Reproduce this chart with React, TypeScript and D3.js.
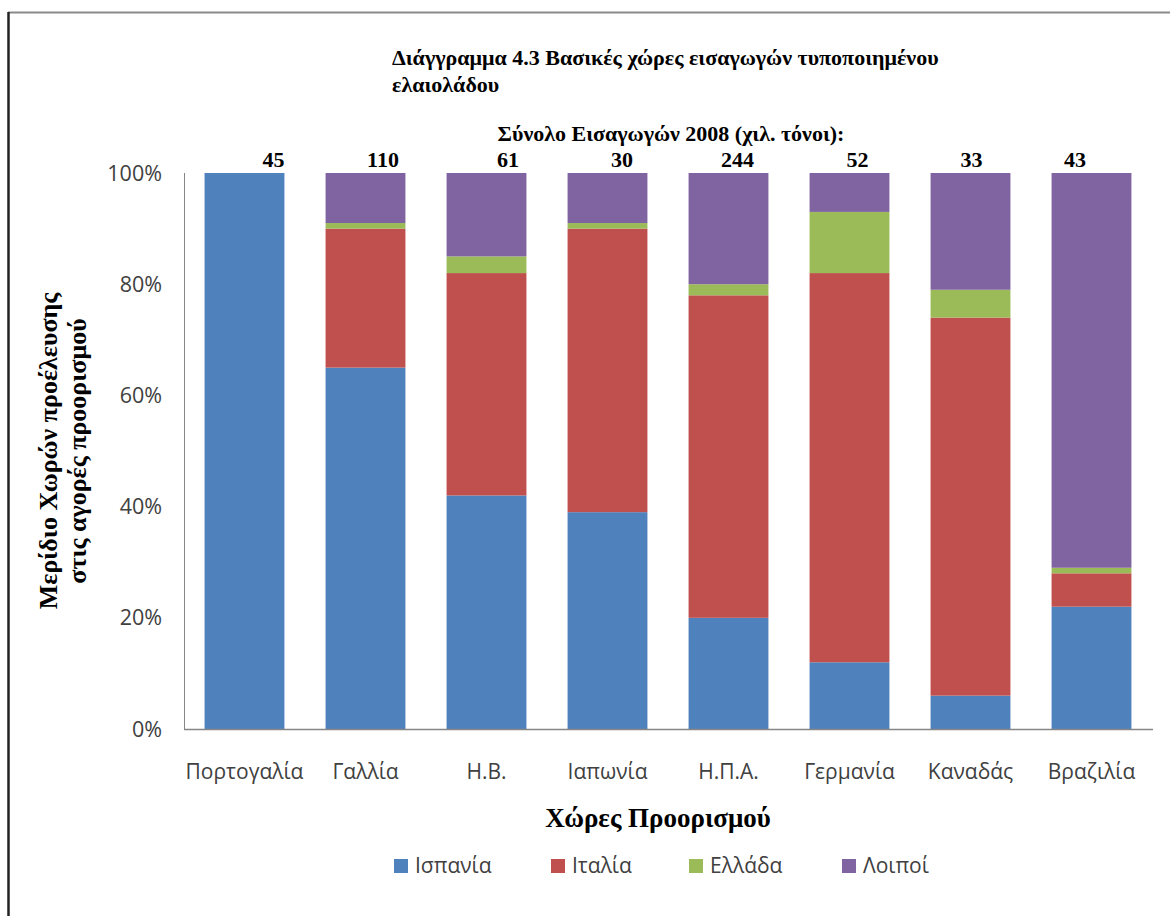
import React from "react";
import * as d3 from "d3";

const categories = ["Πορτογαλία", "Γαλλία", "Η.Β.", "Ιαπωνία", "Η.Π.Α.", "Γερμανία", "Καναδάς", "Βραζιλία"];
const seriesNames = ["Ισπανία", "Ιταλία", "Ελλάδα", "Λοιποί"];
const spain = [100, 65, 42, 39, 20, 12, 6, 22];
const italy = [0, 25, 40, 51, 58, 70, 68, 6];
const greece = [0, 1, 3, 1, 2, 11, 5, 1];
const others = [0, 9, 15, 9, 20, 7, 21, 71];
const totals = [45, 110, 61, 30, 244, 52, 33, 43];
const yTicks = [0, 20, 40, 60, 80, 100];

// layout / style (not data)
const colors = ["#4F81BD", "#C0504D", "#9BBB59", "#8064A2"];
const totalLabelDx = [29, 17.5, 21.5, 14.5, 9, 8, 1, -16.5];
const W = 1170, H = 916;
const plot = { left: 184, right: 1152, top: 173, bottom: 729 };
const serif = "'Liberation Serif', 'Times New Roman', serif";
const sans = "'Open Sans', 'Noto Sans', sans-serif";

export default function App() {
  const rows = categories.map((c, i) => ({
    cat: c,
    [seriesNames[0]]: spain[i],
    [seriesNames[1]]: italy[i],
    [seriesNames[2]]: greece[i],
    [seriesNames[3]]: others[i],
  }));
  const stacked = d3.stack<any>().keys(seriesNames)(rows);
  const x = d3.scaleBand().domain(categories).range([plot.left, plot.right]).paddingInner(0.34).paddingOuter(0.17);
  const y = d3.scaleLinear().domain([0, 100]).range([plot.bottom, plot.top]);
  const color = d3.scaleOrdinal<string, string>().domain(seriesNames).range(colors);
  const legendX = [394, 551, 689, 842];

  return (
    <svg width={W} height={H} style={{ position: "absolute", left: 0, top: 0, background: "#fff" }}>
      <rect x={0} y={0} width={W} height={H} fill="#fff" />
      {/* frame */}
      <line x1={8} y1={12.5} x2={W} y2={12.5} stroke="#8a8a8a" strokeWidth={2} />
      <line x1={8.5} y1={12} x2={8.5} y2={H} stroke="#222" strokeWidth={2.5} />

      {/* title */}
      <text x={392} y={65} fontFamily={serif} fontWeight="bold" fontSize={22} fill="#000">
        Διάγγραμμα 4.3 Βασικές χώρες εισαγωγών τυποποιημένου
      </text>
      <text x={392} y={92} fontFamily={serif} fontWeight="bold" fontSize={22} fill="#000">
        ελαιολάδου
      </text>
      <text x={671} y={141} textAnchor="middle" fontFamily={serif} fontWeight="bold" fontSize={22} fill="#000">
        Σύνολο Εισαγωγών 2008 (χιλ. τόνοι):
      </text>

      {/* bars */}
      {stacked.map((s) => (
        <g key={s.key} fill={color(s.key)}>
          {s.map((d, i) =>
            d[1] - d[0] > 0 ? (
              <rect key={i} x={x(categories[i])!} y={y(d[1])} width={x.bandwidth()} height={y(d[0]) - y(d[1])} />
            ) : null
          )}
        </g>
      ))}

      {/* totals */}
      {totals.map((t, i) => (
        <text key={i} x={x(categories[i])! + x.bandwidth() / 2 + totalLabelDx[i]} y={167} textAnchor="middle"
          fontFamily={serif} fontWeight="bold" fontSize={22} fill="#000">{t}</text>
      ))}

      {/* axes */}
      <line x1={plot.left + 0.5} y1={plot.top} x2={plot.left + 0.5} y2={plot.bottom} stroke="#868686" strokeWidth={1} />
      <line x1={plot.left} y1={plot.bottom + 0.5} x2={plot.right + 1} y2={plot.bottom + 0.5} stroke="#868686" strokeWidth={1.5} />
      {yTicks.map((t) => (
        <text key={t} x={162} y={y(t)} dy="0.35em" textAnchor="end" fontFamily={sans} fontSize={21.5} fill="#404040">
          {t}%
        </text>
      ))}
      {categories.map((c) => (
        <text key={c} x={x(c)! + x.bandwidth() / 2} y={772} dy="0.35em" textAnchor="middle" fontFamily={sans} fontSize={21} fill="#404040">
          {c}
        </text>
      ))}

      {/* axis titles */}
      <text x={658} y={827} textAnchor="middle" fontFamily={serif} fontWeight="bold" fontSize={27} fill="#000">
        Χώρες Προορισμού
      </text>
      <g transform={`translate(48, ${(plot.top + plot.bottom) / 2}) rotate(-90)`}>
        <text x={0} y={0} dy="0.35em" textAnchor="middle" fontFamily={serif} fontWeight="bold" fontSize={26} fill="#000">
          Μερίδιο Χωρών προέλευσης
        </text>
      </g>
      <g transform={`translate(77, ${(plot.top + plot.bottom) / 2}) rotate(-90)`}>
        <text x={0} y={0} dy="0.35em" textAnchor="middle" fontFamily={serif} fontWeight="bold" fontSize={26} fill="#000">
          στις αγορές προορισμού
        </text>
      </g>

      {/* legend */}
      {seriesNames.map((n, i) => (
        <g key={n} transform={`translate(${legendX[i]}, 866)`}>
          <rect x={0} y={-7} width={14} height={14} fill={color(n)} />
          <text x={21} y={0} dy="0.35em" fontFamily={sans} fontSize={21} fill="#404040">{n}</text>
        </g>
      ))}
    </svg>
  );
}
